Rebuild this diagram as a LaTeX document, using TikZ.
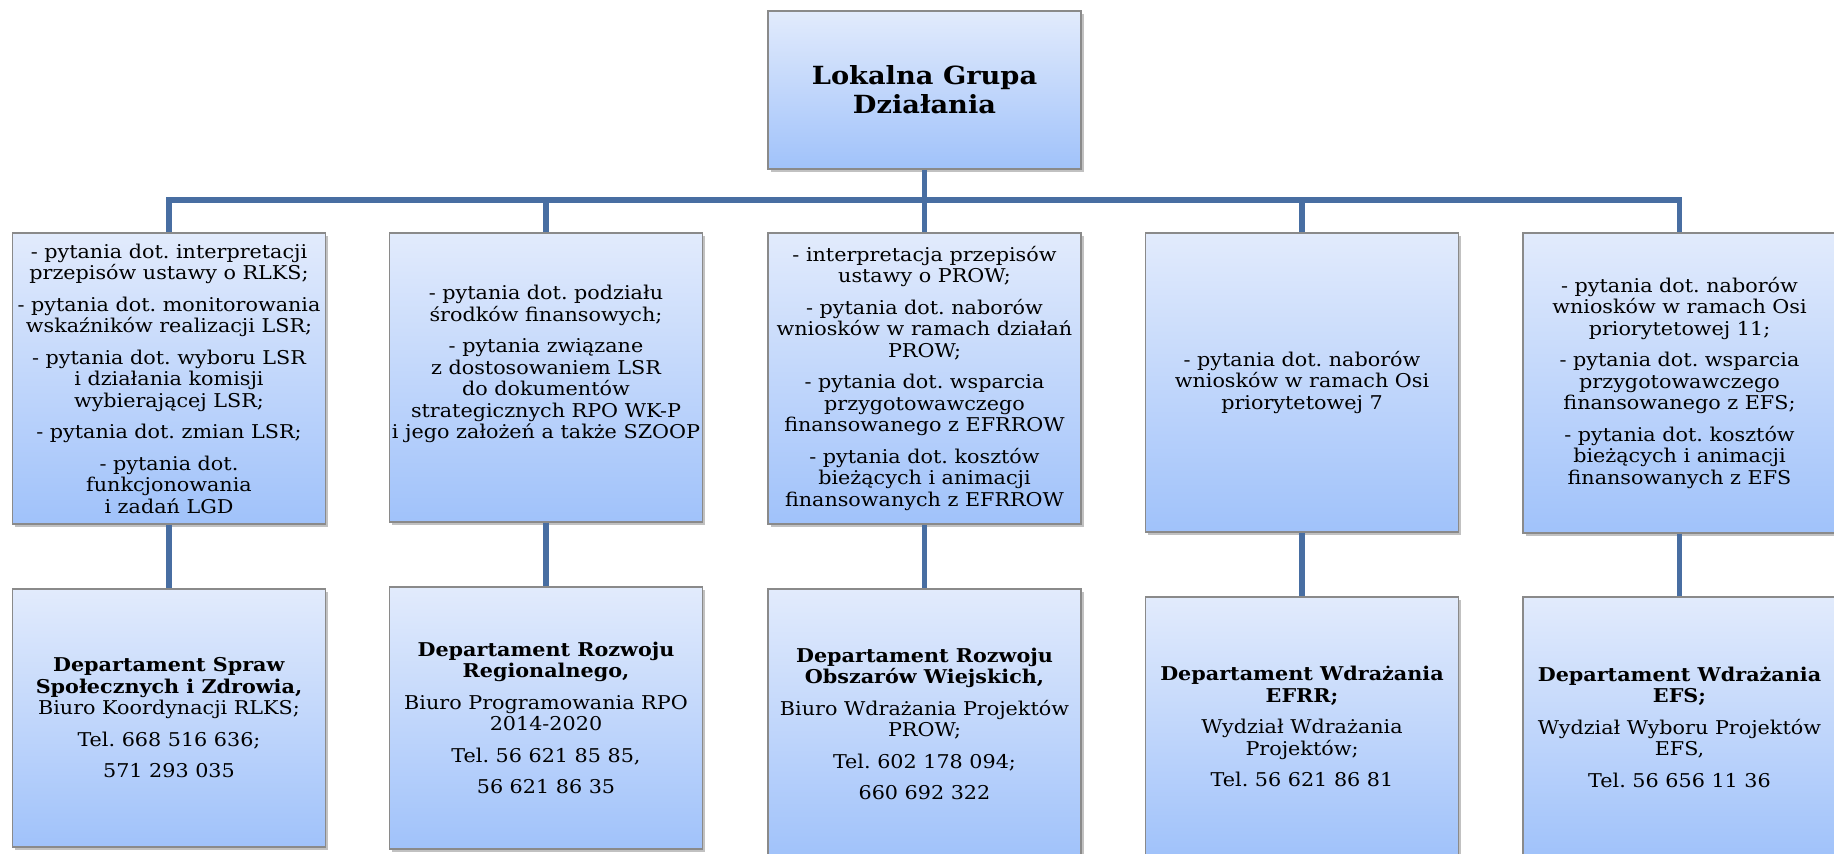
\documentclass[tikz,border=0pt]{standalone}
\usepackage{fontspec}
\setmainfont{DejaVu Serif}[FakeStretch=1.09]
\frenchspacing
\usetikzlibrary{shadows}
\definecolor{boxtop}{RGB}{226,235,252}
\definecolor{boxbottom}{RGB}{160,194,250}
\definecolor{boxline}{RGB}{138,138,138}
\definecolor{linkblue}{RGB}{72,110,162}
\tikzset{
	box/.style={draw=boxline, line width=1.5pt, top color=boxtop, bottom color=boxbottom,
		minimum width=313pt, align=center, inner sep=0pt,
		font=\fontsize{19}{21.5}\selectfont,
		drop shadow={shadow xshift=2.5pt, shadow yshift=-2.5pt, opacity=0.35, fill=black!70}},
	link/.style={draw=linkblue, line width=5.5pt},
}
\begin{document}
\begin{tikzpicture}[x=1pt, y=-1pt]
	\useasboundingbox (0, 0) rectangle (1834, 854);
	% gora
	\node[box, minimum height=158pt, font=\fontsize{25}{29}\selectfont\bfseries] (lgd) at (924.5, 90) {Lokalna Grupa\\Działania};
	% pytania
	\node[box, minimum height=291pt] (q1) at (169, 378.5) {- pytania dot. interpretacji\\przepisów ustawy o RLKS;\\[10pt]- pytania dot. monitorowania\\wskaźników realizacji LSR;\\[10pt]- pytania dot. wyboru LSR\\i działania komisji\\wybierającej LSR;\\[10pt]- pytania dot. zmian LSR;\\[10pt]- pytania dot.\\funkcjonowania\\i zadań LGD};
	\node[box, minimum height=289pt] (q2) at (546, 377.5) {- pytania dot. podziału\\środków finansowych;\\[10pt]- pytania związane\\z dostosowaniem LSR\\do dokumentów\\strategicznych RPO WK-P\\i jego założeń a także SZOOP\\[9pt]\mbox{}};
	\node[box, minimum height=291pt] (q3) at (924.5, 378.5) {- interpretacja przepisów\\ustawy o PROW;\\[10pt]- pytania dot. naborów\\wniosków w ramach działań\\PROW;\\[10pt]- pytania dot. wsparcia\\przygotowawczego\\finansowanego z EFRROW\\[10pt]- pytania dot. kosztów\\bieżących i animacji\\finansowanych z EFRROW};
	\node[box, minimum height=299pt] (q4) at (1302, 382.5) {- pytania dot. naborów\\wniosków w ramach Osi\\priorytetowej 7};
	\node[box, minimum height=300pt] (q5) at (1679.5, 383) {- pytania dot. naborów\\wniosków w ramach Osi\\priorytetowej 11;\\[10pt]- pytania dot. wsparcia\\przygotowawczego\\finansowanego z EFS;\\[10pt]- pytania dot. kosztów\\bieżących i animacji\\finansowanych z EFS};
	% departamenty
	\node[box, minimum height=258pt] (d1) at (169, 718) {\textbf{Departament Spraw}\\\textbf{Społecznych i Zdrowia,}\\Biuro Koordynacji RLKS;\\[10pt]Tel. 668 516 636;\\[10pt]571 293 035};
	\node[box, minimum height=262pt] (d2) at (546, 718) {\textbf{Departament Rozwoju}\\\textbf{Regionalnego,}\\[10pt]Biuro Programowania RPO\\2014-2020\\[10pt]Tel. 56 621 85 85,\\[10pt]56 621 86 35};
	\node[box, minimum height=270pt] (d3) at (924.5, 724) {\textbf{Departament Rozwoju}\\\textbf{Obszarów Wiejskich,}\\[10pt]Biuro Wdrażania Projektów\\PROW;\\[10pt]Tel. 602 178 094;\\[10pt]660 692 322};
	\node[box, minimum height=259pt] (d4) at (1302, 726.5) {\textbf{Departament Wdrażania}\\\textbf{EFRR;}\\[10pt]Wydział Wdrażania\\Projektów;\\[10pt]Tel. 56 621 86 81};
	\node[box, minimum height=260pt] (d5) at (1679.5, 727) {\textbf{Departament Wdrażania}\\\textbf{EFS;}\\[10pt]Wydział Wyboru Projektów\\EFS,\\[10pt]Tel. 56 656 11 36};
	% linie
	\coordinate (bus) at (924.5, 200);
	\draw[link] (q1.north) -- (q1.north |- bus) -- (q5.north |- bus) -- (q5.north);
	\draw[link] (lgd.south) -- (lgd.south |- bus);
	\draw[link] (q2.north |- bus) -- (q2.north);
	\draw[link] (q3.north |- bus) -- (q3.north);
	\draw[link] (q4.north |- bus) -- (q4.north);
	\draw[link] (q1.south) -- (d1.north);
	\draw[link] (q2.south) -- (d2.north);
	\draw[link] (q3.south) -- (d3.north);
	\draw[link] (q4.south) -- (d4.north);
	\draw[link] (q5.south) -- (d5.north);
\end{tikzpicture}
\end{document}
